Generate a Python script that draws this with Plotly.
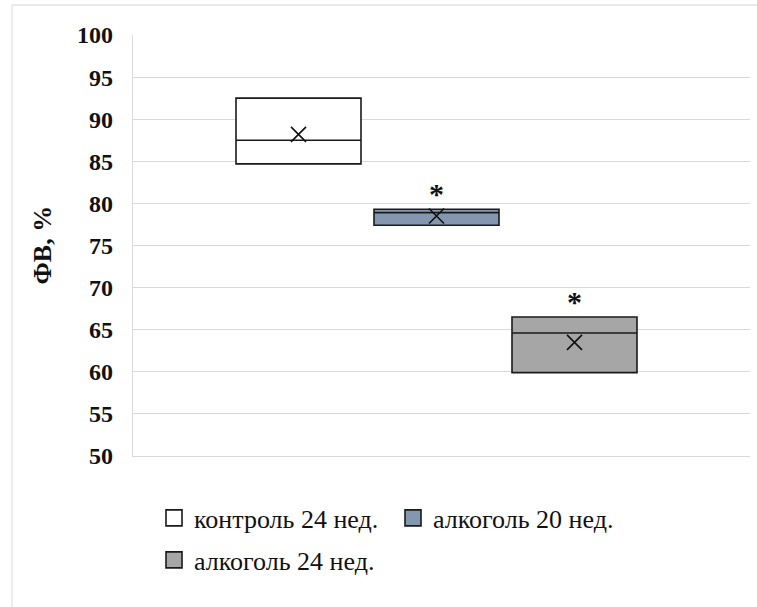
import plotly.graph_objects as go

# ---- data ----
groups = ["контроль 24 нед.", "алкоголь 20 нед.", "алкоголь 24 нед."]
q1 = [84.7, 77.4, 59.9]
median = [87.5, 78.9, 64.6]
q3 = [92.5, 79.3, 66.5]
mean = [88.2, 78.5, 63.5]
significant = [False, True, True]
fill_colors = ["#ffffff", "#8497b0", "#a6a6a6"]
y_ticks = [50, 55, 60, 65, 70, 75, 80, 85, 90, 95, 100]

W, H = 757, 607
ML, MR, MT, MB = 133, 7, 35, 151
pw, ph = W - ML - MR, H - MT - MB

def px_x(p):
    return (p - ML) / pw

def px_y(p):
    return (H - MB - p) / ph

positions = list(range(len(groups)))
step_px = 138.0
x0_px = 298.5
x_range = [(ML - x0_px) / step_px, (W - MR - x0_px) / step_px]
box_w = 125 / step_px

SERIF = "Liberation Serif, Times New Roman, serif"

fig = go.Figure()
legends = ["legend", "legend2", "legend3"]
for i, g in enumerate(groups):
    fig.add_trace(go.Box(
        x=[positions[i]], q1=[q1[i]], median=[median[i]], q3=[q3[i]],
        lowerfence=[q1[i]], upperfence=[q3[i]],
        width=box_w, whiskerwidth=0,
        fillcolor=fill_colors[i], line=dict(color="#1a1a1a", width=1.6),
        showlegend=False, hoverinfo="skip", name=g,
    ))
    fig.add_trace(go.Scatter(
        x=[positions[i]], y=[mean[i]], mode="markers",
        marker=dict(symbol="x-thin", size=15, line=dict(color="#111111", width=1.6)),
        showlegend=False, hoverinfo="skip",
    ))
    # legend-only entry
    fig.add_trace(go.Scatter(
        x=[None], y=[None], mode="markers", name=g, legend=legends[i],
        marker=dict(symbol="square", size=18, color=fill_colors[i],
                    line=dict(color="#1a1a1a", width=1.6)),
    ))
    if significant[i]:
        fig.add_annotation(x=positions[i], y=q3[i], yshift=-3, text="*",
                           showarrow=False, yanchor="bottom",
                           font=dict(family=SERIF, size=30, color="#111111", weight="bold"))

leg_font = dict(family=SERIF, size=26, color="#111111")
fig.update_layout(
    width=W, height=H,
    margin=dict(l=ML, r=MR, t=MT, b=MB),
    paper_bgcolor="white", plot_bgcolor="white",
    xaxis=dict(range=x_range, showgrid=False, zeroline=False, showticklabels=False,
               showline=True, linecolor="#d9d9d9", linewidth=1.3, fixedrange=True),
    yaxis=dict(range=[50, 100], tickvals=y_ticks, showgrid=True, gridcolor="#d9d9d9",
               gridwidth=1.3, zeroline=False, showline=True, linecolor="#d9d9d9",
               linewidth=1.3, ticks="", ticklabelstandoff=14,
               tickfont=dict(family=SERIF, size=24, color="#111111", weight="bold")),
    legend=dict(x=px_x(154), y=px_y(518), xanchor="left", yanchor="middle",
                font=leg_font, bgcolor="rgba(0,0,0,0)"),
    legend2=dict(x=px_x(393), y=px_y(518), xanchor="left", yanchor="middle",
                 font=leg_font, bgcolor="rgba(0,0,0,0)"),
    legend3=dict(x=px_x(154), y=px_y(560), xanchor="left", yanchor="middle",
                 font=leg_font, bgcolor="rgba(0,0,0,0)"),
)

fig.add_annotation(x=px_x(42), y=0.5, xref="paper", yref="paper", text="ФВ, %",
                   textangle=-90, showarrow=False, xanchor="center", yanchor="middle",
                   font=dict(family=SERIF, size=26, color="#111111", weight="bold"))

# outer chart border (top and left edges visible)
fig.add_shape(type="line", xref="paper", yref="paper", x0=px_x(12), x1=px_x(W + 10),
              y0=px_y(5), y1=px_y(5), line=dict(color="#e3e3e3", width=1.3))
fig.add_shape(type="line", xref="paper", yref="paper", x0=px_x(12), x1=px_x(12),
              y0=px_y(5), y1=px_y(H + 10), line=dict(color="#e3e3e3", width=1.3))

fig.write_html("out.html")
